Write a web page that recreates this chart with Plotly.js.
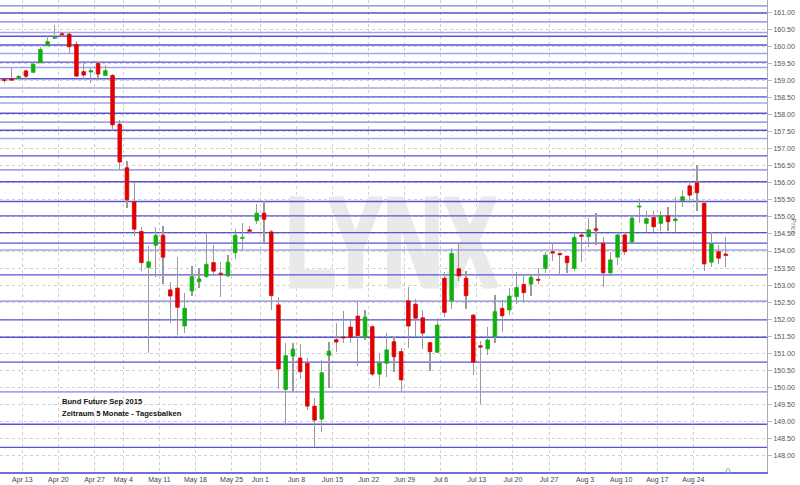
<!DOCTYPE html>
<html>
<head>
<meta charset="utf-8">
<script src="https://cdn.plot.ly/plotly-3.0.1.min.js"></script>
<style>
  html, body { margin: 0; padding: 0; background: #ffffff; }
  #chart { width: 800px; height: 485px; }
</style>
</head>
<body>
<div id="chart"></div>
<script>
// ---- Data ----
const dates = [
  "2015-04-08","2015-04-09","2015-04-10",
  "2015-04-13","2015-04-14","2015-04-15","2015-04-16","2015-04-17",
  "2015-04-20","2015-04-21","2015-04-22","2015-04-23","2015-04-24",
  "2015-04-27","2015-04-28","2015-04-29","2015-04-30",
  "2015-05-04","2015-05-05","2015-05-06","2015-05-07","2015-05-08",
  "2015-05-11","2015-05-12","2015-05-13","2015-05-14","2015-05-15",
  "2015-05-18","2015-05-19","2015-05-20","2015-05-21","2015-05-22",
  "2015-05-26","2015-05-27","2015-05-28","2015-05-29",
  "2015-06-01","2015-06-02","2015-06-03","2015-06-04","2015-06-05",
  "2015-06-08","2015-06-09","2015-06-10","2015-06-11","2015-06-12",
  "2015-06-15","2015-06-16","2015-06-17","2015-06-18","2015-06-19",
  "2015-06-22","2015-06-23","2015-06-24","2015-06-25","2015-06-26",
  "2015-06-29","2015-06-30","2015-07-01","2015-07-02","2015-07-03",
  "2015-07-06","2015-07-07","2015-07-08","2015-07-09","2015-07-10",
  "2015-07-13","2015-07-14","2015-07-15","2015-07-16","2015-07-17",
  "2015-07-20","2015-07-21","2015-07-22","2015-07-23","2015-07-24",
  "2015-07-27","2015-07-28","2015-07-29","2015-07-30","2015-07-31",
  "2015-08-03","2015-08-04","2015-08-05","2015-08-06","2015-08-07",
  "2015-08-10","2015-08-11","2015-08-12","2015-08-13","2015-08-14",
  "2015-08-17","2015-08-18","2015-08-19","2015-08-20","2015-08-21",
  "2015-08-24","2015-08-25","2015-08-26","2015-08-27","2015-08-28"
];
const open = [
  159.03,159.05,159.06,
  159.28,159.24,159.52,160.02,160.24,
  160.37,160.36,160.06,159.26,159.25,
  159.50,159.15,159.15,157.72,
  156.44,155.44,154.57,153.52,154.17,
  154.46,152.86,152.91,151.80,152.83,
  153.10,153.25,153.66,153.35,153.28,
  153.95,154.37,154.62,154.89,
  155.11,154.56,152.42,149.94,150.92,
  150.86,150.71,149.45,149.07,150.94,
  151.40,151.48,151.77,152.09,151.47,
  151.78,150.39,150.71,151.34,151.05,
  152.54,152.44,152.04,151.31,151.03,
  153.20,152.54,153.48,153.20,152.12,
  151.22,151.13,151.49,152.32,152.27,
  152.66,153.02,153.03,153.17,153.49,
  153.98,153.93,153.85,153.49,154.47,
  154.42,154.65,154.23,153.36,153.82,
  154.47,154.27,155.29,154.81,154.98,
  154.81,155.03,154.89,155.48,155.91,
  156.00,155.40,153.67,153.98,153.91
];
const high = [
  159.05,159.36,159.15,
  159.32,159.53,159.99,160.33,160.63,
  160.42,160.41,160.16,159.57,159.36,
  159.54,159.45,159.19,157.84,
  156.64,156.03,154.70,154.15,154.70,
  154.73,153.10,153.82,152.76,153.56,
  153.49,154.51,154.18,153.67,153.88,
  154.64,154.81,154.73,155.38,
  155.47,154.62,152.66,151.31,151.29,
  151.27,150.85,149.68,150.79,151.33,
  151.89,152.24,151.98,152.51,152.27,
  151.82,151.00,151.59,151.49,151.15,
  152.94,152.60,152.27,151.33,152.03,
  153.39,154.08,154.27,153.42,152.14,
  151.37,151.78,152.71,152.56,152.91,
  153.37,153.33,153.33,153.49,153.96,
  154.23,153.95,153.86,154.54,154.52,
  154.96,155.11,154.40,153.98,154.57,
  154.57,155.03,155.52,155.17,155.17,
  155.17,155.30,155.57,155.79,155.99,
  156.52,155.48,154.57,154.18,154.40
];
const low = [
  158.92,158.99,159.05,
  159.01,159.21,159.50,160.02,160.22,
  160.28,159.80,159.09,159.05,158.94,
  159.01,159.13,157.57,156.40,
  155.27,154.44,153.41,151.02,153.25,
  153.02,151.90,151.54,151.59,152.69,
  152.91,153.20,153.28,152.66,153.24,
  153.76,154.03,154.49,154.78,
  154.23,152.27,149.94,148.88,149.86,
  150.25,149.35,148.26,148.70,149.98,
  151.03,151.29,151.29,150.64,151.39,
  150.32,150.05,150.31,150.46,149.87,
  151.15,151.51,151.13,150.49,151.00,
  152.06,152.29,153.11,152.30,150.36,
  149.50,150.95,151.29,151.63,152.12,
  152.45,152.51,152.68,153.03,153.36,
  153.72,153.30,153.36,153.41,153.69,
  154.13,154.18,152.94,153.27,153.59,
  153.88,154.23,154.83,154.57,154.57,
  154.60,154.60,154.57,155.28,155.42,
  155.18,153.42,153.54,153.62,153.52
];
const close = [
  159.00,159.01,159.12,
  159.13,159.48,159.91,160.14,160.27,
  160.34,159.99,159.13,159.16,159.29,
  159.19,159.29,157.70,156.61,
  155.50,154.64,153.66,153.68,154.46,
  153.82,152.68,152.35,152.32,153.25,
  153.18,153.61,153.41,153.31,153.67,
  154.46,154.40,154.58,155.11,
  154.93,152.69,150.54,150.93,151.12,
  150.46,149.45,149.04,150.43,151.06,
  151.33,151.45,151.47,151.52,152.06,
  150.39,150.72,151.10,150.90,150.22,
  151.80,152.03,151.59,151.05,151.83,
  152.20,153.93,153.27,152.69,150.74,
  151.18,151.39,152.22,152.10,152.68,
  152.93,152.78,153.22,153.14,153.88,
  153.94,153.89,153.66,154.40,154.43,
  154.62,154.61,153.36,153.74,154.47,
  153.98,154.96,155.32,154.95,154.71,
  155.03,154.86,154.94,155.59,155.64,
  155.71,153.62,154.21,153.79,153.87
];
// week tick labels (placed at the first trading day of each week)
const tickDates = ["2015-04-13","2015-04-20","2015-04-27","2015-05-04","2015-05-11","2015-05-18",
  "2015-05-25","2015-06-01","2015-06-08","2015-06-15","2015-06-22","2015-06-29","2015-07-06",
  "2015-07-13","2015-07-20","2015-07-27","2015-08-03","2015-08-10","2015-08-17","2015-08-24"];
const tickLabels = ["Apr 13","Apr 20","Apr 27","May 4","May 11","May 18","May 25","Jun 1","Jun 8",
  "Jun 15","Jun 22","Jun 29","Jul 6","Jul 13","Jul 20","Jul 27","Aug 3","Aug 10","Aug 17","Aug 24"];
// horizontal price levels drawn in blue
const levelsStrong = [160.98,160.30,160.04,159.54,159.05,158.52,158.04,157.54,156.79,156.03,
  155.45,155.03,154.54,154.23,153.30,151.98,151.47,150.74,148.92,148.24];
const levelsWeak = [161.19,160.72,160.41,159.79,159.38,158.78,158.34,157.78,157.30,156.38,
  154.03,152.53,149.87];
const chartTitle = "Bund Future Sep 2015";
const chartSubtitle = "Zeitraum 5 Monate - Tagesbalken";
const watermark = "LYNX";

// ---- Derived ----
const idx = dates.map((d, i) => i);
const tickVals = tickDates.map(td => dates.findIndex(d => d >= td) - 0.5);
const X_RANGE = [-0.596, 105.71];
const Y_RANGE = [147.519, 161.361];

const bodyBase = open.map((o, i) => Math.min(o, close[i]));
const bodyH = open.map((o, i) => Math.max(Math.abs(close[i] - o), 0.012));
const bodyColor = open.map((o, i) => close[i] >= o ? "#10b010" : "#e00000");

function levelTrace(levels, color, width) {
  const xs = [], ys = [];
  levels.forEach(v => { xs.push(X_RANGE[0], X_RANGE[1], null); ys.push(v, v, null); });
  return { type: "scatter", mode: "lines", x: xs, y: ys, xaxis: "x", yaxis: "y",
    line: { color: color, width: width }, hoverinfo: "skip", showlegend: false };
}

const WM_COLOR = "#e9e9e9";
const traces = [
  { type: "scatter", mode: "text", x: [53.67], y: [153.9], text: [watermark], xaxis: "x", yaxis: "y",
    textfont: { family: "Liberation Sans, Arial, sans-serif", size: 126, color: WM_COLOR, weight: 700 },
    textposition: "middle center", hoverinfo: "skip", showlegend: false },
  levelTrace(levelsWeak, "rgb(165,165,235)", 1.6),
  levelTrace(levelsStrong, "rgb(85,85,215)", 1.4),
  { type: "bar", x: idx, base: low, y: high.map((h, i) => h - low[i]), width: 0.17,
    xaxis: "x2", yaxis: "y2", marker: { color: "#9a9a9a" }, hoverinfo: "skip", showlegend: false },
  { type: "bar", x: idx, base: bodyBase, y: bodyH, width: 0.5,
    xaxis: "x2", yaxis: "y2", marker: { color: bodyColor, line: { color: bodyColor, width: 0.8 } },
    hoverinfo: "skip", showlegend: false }
];

const layout = {
  width: 800, height: 485,
  margin: { l: 0, r: 33, t: 0, b: 13, pad: 0 },
  paper_bgcolor: "#ffffff", plot_bgcolor: "#ffffff",
  barmode: "overlay", bargap: 0,
  showlegend: false,
  font: { family: "Liberation Sans, Arial, sans-serif", size: 7, color: "#555" },
  xaxis: {
    type: "linear", range: X_RANGE, fixedrange: true,
    tickvals: tickVals, ticktext: tickLabels, ticks: "",
    showgrid: true, gridcolor: "#cfcfcf", griddash: "dot", gridwidth: 1,
    showline: true, linecolor: "rgb(110,110,220)", linewidth: 1.5,
    zeroline: false, tickfont: { size: 7, color: "#444" }, automargin: false
  },
  yaxis: {
    type: "linear", range: Y_RANGE, side: "right", fixedrange: true,
    tick0: 148, dtick: 0.5, tickformat: ".2f",
    ticks: "outside", ticklen: 4, tickcolor: "#bbbbbb",
    showgrid: true, gridcolor: "#cfcfcf", griddash: "dot", gridwidth: 1,
    showline: true, linecolor: "#aaaaaa", linewidth: 1,
    zeroline: false, tickfont: { size: 7, color: "#555" }, automargin: false
  },
  xaxis2: { overlaying: "x", range: X_RANGE, visible: false, fixedrange: true },
  yaxis2: { overlaying: "y", range: Y_RANGE, visible: false, fixedrange: true },
  annotations: [
    { xref: "paper", yref: "paper", x: 0.0783, y: 0.150, xanchor: "left", yanchor: "middle",
      text: "<b>" + chartTitle + "</b>", showarrow: false,
      font: { family: "Liberation Sans, Arial, sans-serif", size: 7.6, color: "#111" } },
    { xref: "paper", yref: "paper", x: 0.0783, y: 0.1238, xanchor: "left", yanchor: "middle",
      text: "<b>" + chartSubtitle + "</b>", showarrow: false,
      font: { family: "Liberation Sans, Arial, sans-serif", size: 7.6, color: "#111" } },
    { xref: "paper", yref: "paper", x: 1, xshift: 26, y: 0.52, xanchor: "center", yanchor: "middle",
      text: "Price", textangle: 90, showarrow: false,
      font: { family: "Liberation Sans, Arial, sans-serif", size: 7, color: "#777" } },
    { xref: "paper", yref: "paper", x: 0.949, y: 0.004, xanchor: "center", yanchor: "middle",
      text: "⌂", showarrow: false,
      font: { family: "DejaVu Sans, sans-serif", size: 9, color: "#6f95d8" } }
  ]
};

Plotly.newPlot("chart", traces, layout, { displayModeBar: false, staticPlot: true }).then(() => {
  // condense the watermark horizontally (it is drawn as a tall, narrow word)
  const t = document.querySelector("#chart .scatterlayer .textpoint text");
  if (!t) return;
  t.style.stroke = WM_COLOR;
  t.style.strokeWidth = "5px";
  t.style.strokeLinejoin = "miter";
  const bb = t.getBBox();
  const targetW = 212;
  const s = targetW / bb.width;
  const cx = bb.x + bb.width / 2, cy = bb.y + bb.height / 2;
  const prev = t.getAttribute("transform") || "";
  t.setAttribute("transform", prev + " translate(" + cx + "," + cy + ") scale(" + s + ",1) translate(" + (-cx) + "," + (-cy) + ")");
});
</script>
</body>
</html>
